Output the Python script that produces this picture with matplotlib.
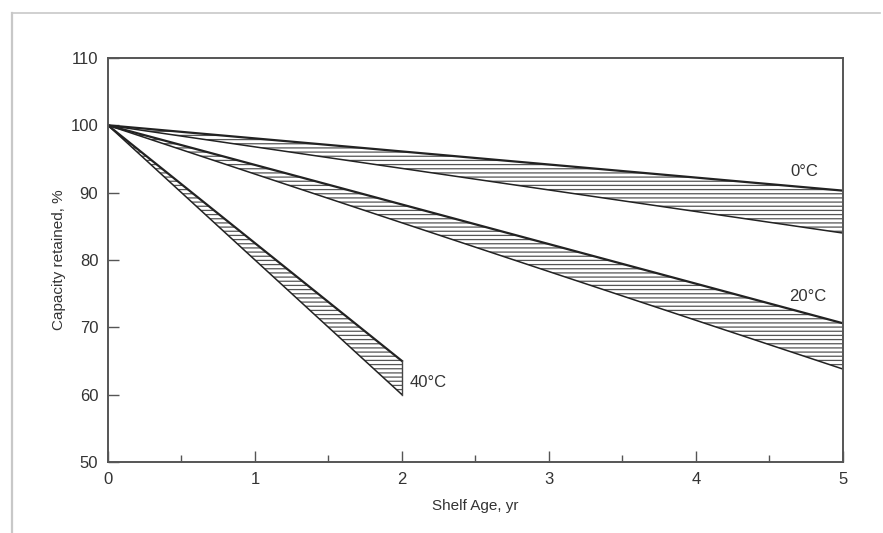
import matplotlib
matplotlib.use("Agg")
import matplotlib.pyplot as plt
from matplotlib.lines import Line2D
from matplotlib.ticker import MultipleLocator

plt.rcParams['font.family'] = ['Liberation Sans', 'DejaVu Sans']
plt.rcParams['hatch.linewidth'] = 0.9

# shelf age (yr) and capacity retained (%) bands: upper / lower bound
age_0c = [0, 5]
upper_0c = [100, 90.3]
lower_0c = [100, 84.0]

age_20c = [0, 5]
upper_20c = [100, 70.6]
lower_20c = [100, 63.8]

age_40c = [0, 2]
upper_40c = [100, 65.0]
lower_40c = [100, 60.0]

band_labels = ["0°C", "20°C", "40°C"]
label_pos = [(4.74, 93.1), (4.76, 74.6), (2.05, 61.8)]

fig = plt.figure(figsize=(8.83, 5.33), dpi=100)
ax = fig.add_axes([0.1223, 0.1332, 0.9547 - 0.1223, 0.8912 - 0.1332])

line_col = "#222222"
for x, hi, lo in [(age_0c, upper_0c, lower_0c),
                  (age_20c, upper_20c, lower_20c),
                  (age_40c, upper_40c, lower_40c)]:
    ax.fill_between(x, lo, hi, facecolor="white", edgecolor="#555555",
                    hatch="----", linewidth=0)
    ax.plot(x, hi, color=line_col, lw=1.6)
    ax.plot(x, lo, color=line_col, lw=1.1)
    # vertical closing edge of the band
    ax.plot([x[-1], x[-1]], [lo[-1], hi[-1]], color="#444444", lw=1.0)

for lab, (lx, ly) in zip(band_labels, label_pos):
    ha = "left" if lab == "40°C" else "center"
    ax.text(lx, ly, lab, fontsize=12, color="#333333", ha=ha, va="center")

ax.set_xlim(0, 5)
ax.set_ylim(50, 110)
ax.xaxis.set_major_locator(MultipleLocator(1))
ax.xaxis.set_minor_locator(MultipleLocator(0.5))
ax.yaxis.set_major_locator(MultipleLocator(10))
ax.tick_params(axis="both", which="major", direction="in", length=8,
               width=1, colors="#555555", labelcolor="#333333", labelsize=12)
ax.tick_params(axis="y", which="major", pad=7)
ax.tick_params(axis="x", which="major", pad=7)
ax.tick_params(axis="x", which="minor", direction="in", length=5,
               width=1, colors="#555555")
ax.tick_params(axis="both", top=False, right=False, which="both")
for s in ax.spines.values():
    s.set_color("#555555")
    s.set_linewidth(1.4)

ax.set_xlabel("Shelf Age, yr", fontsize=11, color="#333333", labelpad=9)
ax.set_ylabel("Capacity retained, %", fontsize=11, color="#333333", labelpad=3)

# faint outer frame of the scanned figure
frame_col = "#c8c8c8"
fig.add_artist(Line2D([12 / 883, 880 / 883], [1 - 13 / 533, 1 - 13 / 533],
                      color=frame_col, lw=1.2, transform=fig.transFigure))
fig.add_artist(Line2D([12 / 883, 12 / 883], [0, 1 - 13 / 533],
                      color=frame_col, lw=1.6, transform=fig.transFigure))

fig.savefig("out.png", dpi=100)
